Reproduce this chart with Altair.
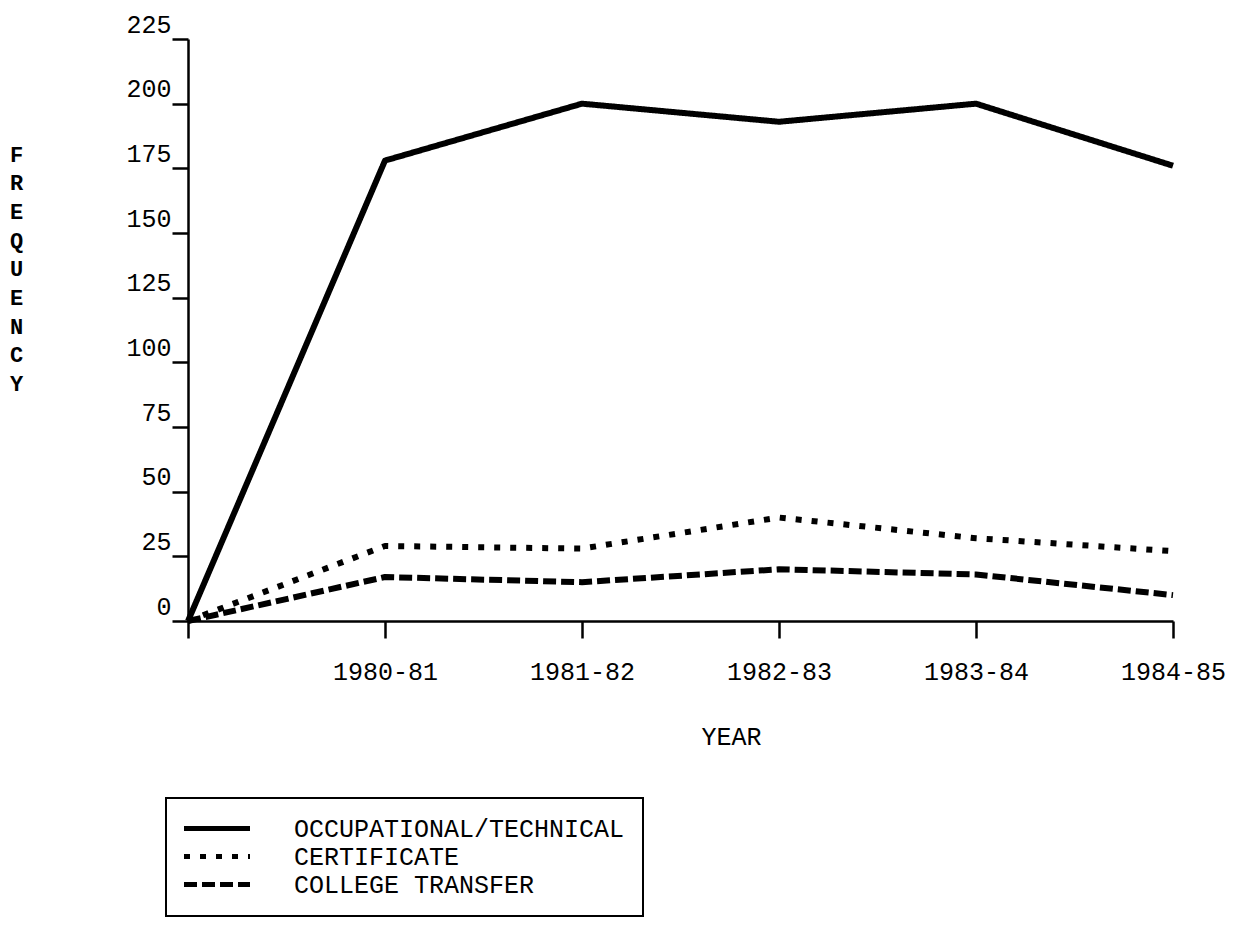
import altair as alt
import pandas as pd

YEARS = ["", "1980-81", "1981-82", "1982-83", "1983-84", "1984-85"]
SERIES = ["OCCUPATIONAL/TECHNICAL", "CERTIFICATE", "COLLEGE TRANSFER"]
OCCUPATIONAL = [0, 178, 200, 193, 200, 176]
CERTIFICATE = [0, 29, 28, 40, 32, 27]
COLLEGE_TRANSFER = [0, 17, 15, 20, 18, 10]
Y_TICKS = [0, 25, 50, 75, 100, 125, 150, 175, 200, 225]
Y_TITLE = "FREQUENCY"
X_TITLE = "YEAR"

rows = []
for name, vals in zip(SERIES, [OCCUPATIONAL, CERTIFICATE, COLLEGE_TRANSFER]):
    for i, v in enumerate(vals):
        rows.append({"idx": i, "year": YEARS[i], "series": name, "value": v})
df = pd.DataFrame(rows)

FONT = "Liberation Mono"
label_expr = "[" + ",".join("'%s'" % y for y in YEARS) + "][datum.value]"

chart = alt.Chart(df).mark_line(
    strokeWidth=6, strokeCap="butt", strokeJoin="round", color="black"
).encode(
    x=alt.X(
        "idx:Q",
        scale=alt.Scale(domain=[0, 5], nice=False, zero=False),
        axis=alt.Axis(
            values=list(range(len(YEARS))),
            labelExpr=label_expr,
            title=X_TITLE,
            tickSize=17,
            labelPadding=41,
            labelBaseline="alphabetic",
            labelAlign="center",
            titleX=543,
            titleY=123,
            titleBaseline="alphabetic",
            titleAlign="center",
        ),
    ),
    y=alt.Y(
        "value:Q",
        scale=alt.Scale(domain=[0, 225], nice=False),
        axis=alt.Axis(
            values=Y_TICKS,
            title=list(Y_TITLE),
            titleAngle=0,
            titleX=-172,
            titleY=122,
            titleBaseline="alphabetic",
            titleAlign="center",
            titleLineHeight=28.7,
            titleFontSize=22,
            titleFontWeight="bold",
            tickSize=16,
            labelPadding=1,
            labelAlign="right",
            labelBaseline="alphabetic",
            labelOffset=-7,
        ),
    ),
    strokeDash=alt.StrokeDash(
        "series:N",
        scale=alt.Scale(domain=SERIES, range=[[1, 0], [6, 10], [13, 5]]),
        legend=alt.Legend(
            title=None,
            orient="none",
            legendX=-22,
            legendY=759,
            strokeColor="black",
            fillColor="white",
            padding=18,
            symbolType="M-1.25,0H5.35",
            symbolSize=400,
            symbolStrokeWidth=5,
            symbolStrokeColor="black",
            labelFont=FONT,
            labelFontSize=25,
            labelColor="black",
            labelOffset=85,
            labelLimit=1000,
            rowPadding=2,
        ),
    ),
    detail="series:N",
).properties(
    width=985,
    height=582,
    autosize=alt.AutoSizeParams(type="none"),
    padding={"left": 180, "top": 31, "right": 53, "bottom": 299},
    background="white",
).configure_view(
    stroke=None
).configure_axis(
    grid=False,
    domainColor="black",
    domainWidth=2.5,
    tickColor="black",
    tickWidth=2.5,
    labelFont=FONT,
    labelFontSize=25,
    labelColor="black",
    titleFont=FONT,
    titleFontSize=25,
    titleFontWeight="normal",
    titleColor="black",
).configure_legend(
    strokeWidth=2
)

chart.save("out.html", embed_options={"renderer": "svg", "actions": False})
